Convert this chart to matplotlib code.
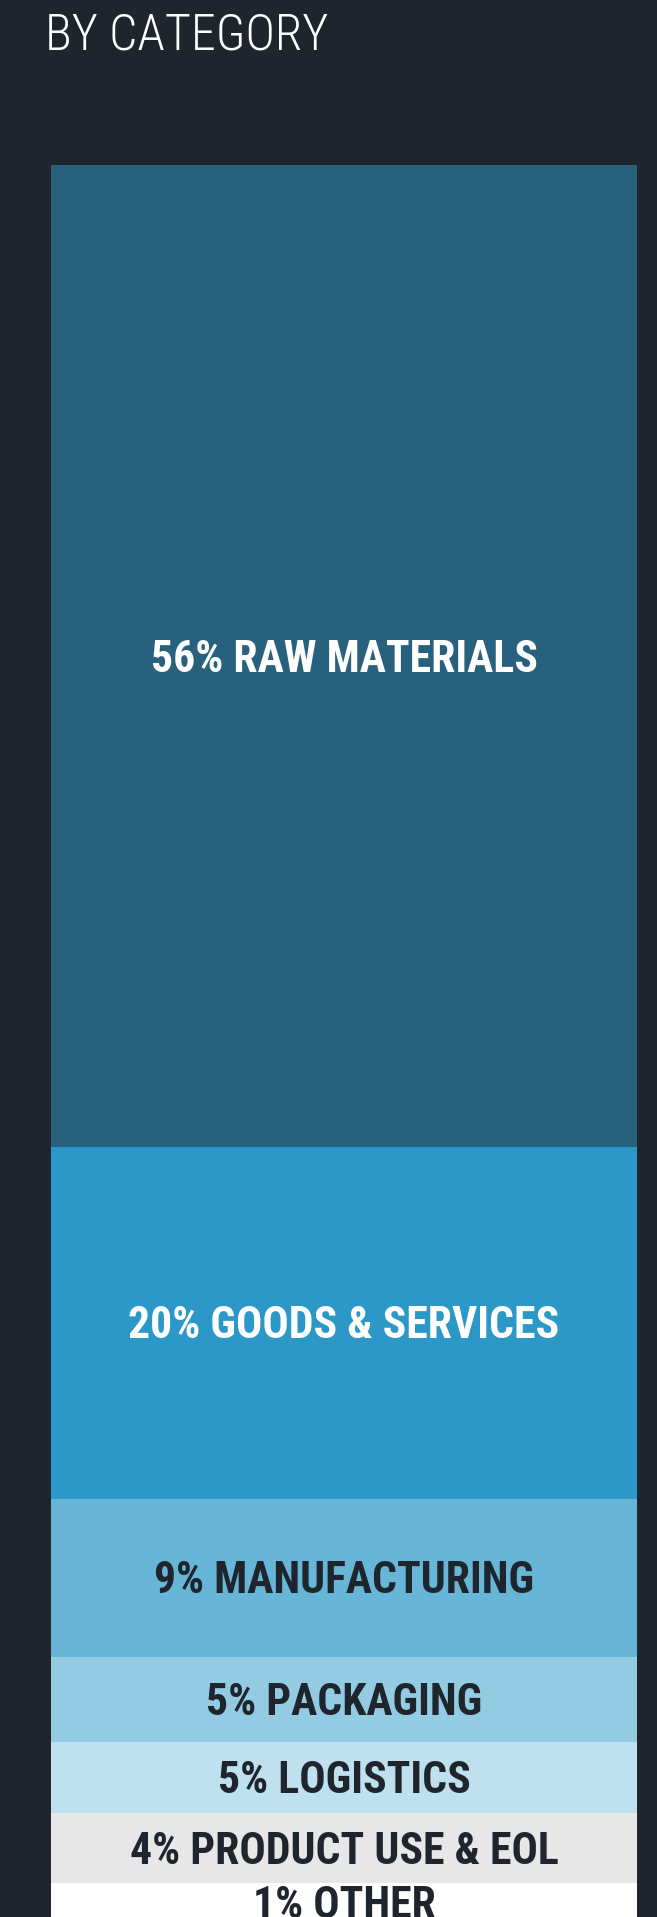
import matplotlib

matplotlib.use("Agg")
import matplotlib.pyplot as plt

# segment shares (%), top to bottom
categories = ["RAW MATERIALS", "GOODS & SERVICES", "MANUFACTURING", "PACKAGING",
              "LOGISTICS", "PRODUCT USE & EOL", "OTHER"]
shares = [55.95, 20.05, 9.0, 4.85, 4.05, 4.0, 2.2]
labels = ["56%", "20%", "9%", "5%", "5%", "4%", "1%"]

colors = ["#28617d", "#2c98c7", "#68b6d7", "#93cce2", "#bee0ef", "#e7e7e7", "#ffffff"]
text_colors = ["white", "white", "#1f252d", "#1f252d", "#1f252d", "#1f252d", "#1f252d"]
BG = "#1f252d"

W, H = 657, 1917
fig = plt.figure(figsize=(W / 100, H / 100), dpi=100)
fig.patch.set_facecolor(BG)

# bar area: x 51..637 px, starts 165 px from top, 17.55 px per percent
px_per_pct = 17.55
top_px = 165
ax = fig.add_axes([51 / W, 0, 586 / W, (H - top_px) / H])
ax.set_facecolor(BG)
ax.set_xlim(0, 1)
ax.set_ylim((H - top_px) / px_per_pct, 0)
ax.axis("off")

font = ["Roboto Condensed", "Liberation Sans Narrow", "Roboto", "DejaVu Sans"]
label_size = 31.5
cap_pct = 0.711 * label_size * 100 / 72 / px_per_pct  # half of this centres caps

bottom = 0
for cat, val, lab, c, tc in zip(categories, shares, labels, colors, text_colors):
    ax.bar(0.5, val, width=1.0, bottom=bottom, color=c, edgecolor="none")
    ax.text(0.5, bottom + val / 2 + cap_pct / 2, f"{lab} {cat}", ha="center",
            va="baseline", color=tc, fontsize=label_size, fontweight="bold",
            family=font)
    bottom += val

fig.text(45 / W, 1 - 50 / H, "BY CATEGORY", ha="left", va="baseline",
         color="white", fontsize=36, fontweight="light", family=font)

fig.savefig("out.png", dpi=100, facecolor=BG)
